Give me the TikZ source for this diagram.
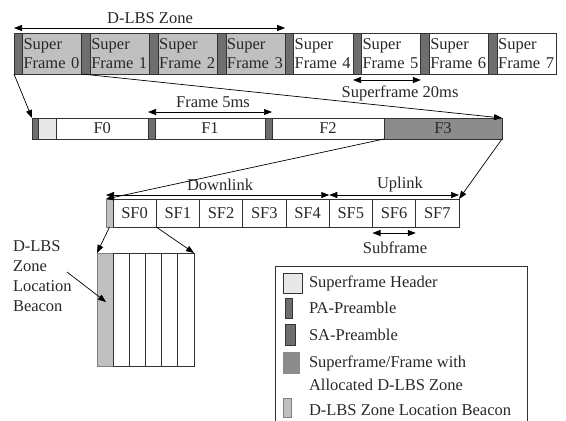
\documentclass[tikz,border=0pt]{standalone}
\usepackage{fontspec}
\setmainfont{Liberation Serif}
\usetikzlibrary{arrows.meta,calc}
\definecolor{predark}{RGB}{110,110,110}
\definecolor{sfgray}{RGB}{192,192,192}
\definecolor{fgray}{RGB}{140,140,140}
\definecolor{hdr}{RGB}{232,232,232}
\definecolor{txt}{RGB}{40,40,40}
\begin{document}
\begin{tikzpicture}[x=1pt,y=-1pt,
  every node/.style={inner sep=0pt, outer sep=0pt, text=txt, font=\fontsize{16.5}{19}\selectfont},
  cell/.style={draw=black!80, line width=0.8pt, anchor=north west, rectangle},
  arr/.style={-{Triangle[length=8pt,width=6pt]}, line width=0.7pt},
  dim/.style={{Triangle[length=8pt,width=6pt]}-{Triangle[length=8pt,width=6pt]}, line width=0.7pt}
]
\useasboundingbox (0,0) rectangle (566,421);

% top row: superframes
\foreach \i in {0,...,7}{
  \pgfmathsetmacro{\xx}{14+67.8*\i}
  \ifnum\i<4 \def\myfill{sfgray}\else\def\myfill{white}\fi
  \node[cell, fill=predark, minimum width=8.5pt, minimum height=41pt] (p\i) at (\xx,33) {};
  \node[cell, fill=\myfill, minimum height=41pt, text width=57.3pt, inner xsep=1pt, align=left] (s\i) at (\xx+8.5,33) {Super\\Frame \i};
}

% frame row
\node[cell, fill=predark, minimum width=6.5pt, minimum height=21pt] (fp0) at (32,118) {};
\node[cell, fill=hdr, minimum width=18pt, minimum height=21pt] (fh) at (38.5,118) {};
\node[cell, minimum width=91.5pt, minimum height=21pt] (f0) at (56.5,118) {F0};
\node[cell, fill=predark, minimum width=7pt, minimum height=21pt] (fp1) at (148,118) {};
\node[cell, minimum width=110pt, minimum height=21pt] (f1) at (155,118) {F1};
\node[cell, fill=predark, minimum width=7pt, minimum height=21pt] (fp2) at (265,118) {};
\node[cell, minimum width=112pt, minimum height=21pt] (f2) at (272,118) {F2};
\node[cell, fill=fgray, minimum width=118pt, minimum height=21pt] (f3) at (384,118) {F3};

% subframe row
\node[cell, fill=sfgray, draw=gray, minimum width=7pt, minimum height=28pt] (bc) at (106,199) {};
\foreach \i in {0,...,7}{
  \node[cell, minimum width=43.25pt, minimum height=28pt] (sf\i) at (113+43.25*\i,199) {SF\i};
}

% bottom block
\node[cell, fill=sfgray, draw=gray, minimum width=16pt, minimum height=113pt] (bb) at (97,253) {};
\foreach \i in {1,...,5}{
  \node[cell, minimum width=16.2pt, minimum height=113pt] (bk\i) at (113+16.2*\i-16.2,253) {};
}

% expansion arrows
\draw[arr] (p0.south west) -- (fp0.north west);
\draw[arr] (s0.south east) -- (f3.north east);
\draw[arr] (f2.south east) -- (bc.north west);
\draw[arr] (f3.south east) -- (sf7.north east);
\draw[arr] (bc.south) -- (bb.north west);
\draw[arr] (sf0.south east) -- (bk5.north east);

% dimension arrows
\draw[dim] ([yshift=5pt]p0.north west) -- ([yshift=5pt]s3.north east);
\node (zl) at (150,18) {D-LBS Zone};
\draw[dim] ([yshift=-6pt]p5.south west) -- ([yshift=-6pt]s5.south east);
\node (sfl) at (400,93) {Superframe 20ms};
\draw[dim] ([yshift=6pt]fp1.north west) -- ([yshift=6pt]fp2.north east);
\node (fl) at (213,102) {Frame 5ms};
\draw[dim] ([yshift=4pt]bc.north west) -- ([yshift=4pt]sf4.north east);
\node (dl) at (220,185) {Downlink};
\draw[dim] ([yshift=4pt]sf5.north west) -- ([yshift=4pt]sf7.north east);
\node (ul) at (400,185) {Uplink};
\draw[dim] ([yshift=-6pt]sf6.south west) -- ([yshift=-6pt]sf6.south east);
\node (subl) at (395,248) {Subframe};

% beacon label
\node[anchor=north west, align=left, font=\fontsize{16.5}{20}\selectfont] (bl) at (13,241) {D-LBS\\Zone\\Location\\Beacon};
\coordinate (ba1) at (67,272);
\coordinate (ba2) at (106,302);
\draw[arr] (ba1) -- (ba2);

% legend
\draw[line width=0.8pt, black!80] (275,421) -- (275,266) -- (527,266) -- (527,421);
\node[cell, fill=hdr, minimum width=19pt, minimum height=20pt] (lg1) at (283,273) {};
\node[anchor=west] (lt1) at (309,283) {Superframe Header};
\node[cell, fill=predark, minimum width=7pt, minimum height=20pt] (lg2) at (285,298) {};
\node[anchor=west] (lt2) at (309,308) {PA-Preamble};
\node[cell, fill=predark, minimum width=10pt, minimum height=21pt] (lg3) at (285,324) {};
\node[anchor=west] (lt3) at (309,335) {SA-Preamble};
\node[cell, fill=fgray, draw=fgray, minimum width=16pt, minimum height=21pt] (lg4) at (283,352) {};
\node[anchor=west, align=left, font=\fontsize{16.5}{23}\selectfont] (lt4) at (309,373) {Superframe/Frame with\\Allocated D-LBS Zone};
\node[cell, fill=sfgray, draw=gray, minimum width=8pt, minimum height=19pt] (lg5) at (283,398) {};
\node[anchor=west] (lt5) at (309,410) {D-LBS Zone Location Beacon};
\end{tikzpicture}
\end{document}
